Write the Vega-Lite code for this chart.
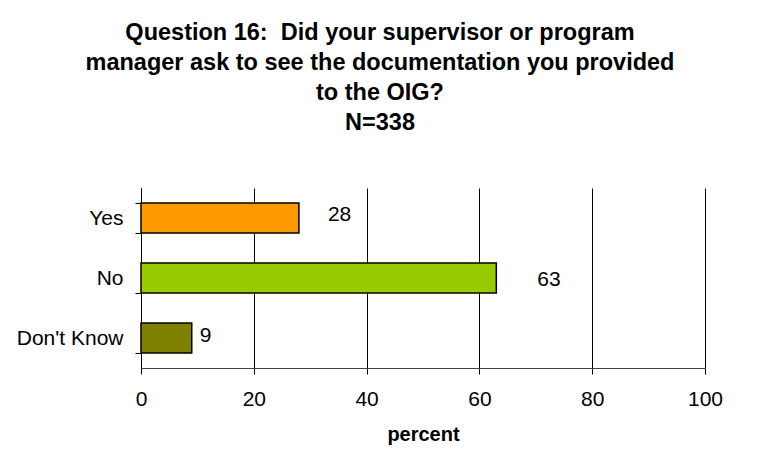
{
  "$schema": "https://vega.github.io/schema/vega-lite/v6.json",
  "width": 564,
  "height": 180,
  "autosize": "none",
  "padding": {"left": 141, "top": 188, "right": 55, "bottom": 94},
  "background": "white",
  "title": {
    "text": ["Question 16:\u00a0 Did your supervisor or program", "manager ask to see the documentation you provided", "to the OIG?", "N=338"],
    "font": "Liberation Sans",
    "fontSize": 23.5,
    "fontWeight": "bold",
    "color": "black",
    "lineHeight": 30,
    "anchor": "middle",
    "frame": "group",
    "dx": -43,
    "offset": 43
  },
  "config": {"view": {"stroke": null}},
  "data": {
    "values": [
      {"answer": "Yes", "percent": 28},
      {"answer": "No", "percent": 63},
      {"answer": "Don't Know", "percent": 9}
    ]
  },
  "encoding": {
    "y": {
      "field": "answer",
      "type": "nominal",
      "sort": ["Yes", "No", "Don't Know"],
      "scale": {"paddingInner": 0.5, "paddingOuter": 0.25},
      "axis": {
        "title": null,
        "tickBand": "extent",
        "tickSize": 6,
        "tickColor": "black",
        "domainColor": "black",
        "labelFont": "Liberation Sans",
        "labelFontSize": 21,
        "labelColor": "black",
        "labelPadding": 12,
        "grid": false
      }
    },
    "x": {
      "field": "percent",
      "type": "quantitative",
      "scale": {"domain": [0, 100], "nice": false},
      "axis": {
        "values": [0, 20, 40, 60, 80, 100],
        "grid": true,
        "gridColor": "black",
        "gridOpacity": 1,
        "title": "percent",
        "titleFont": "Liberation Sans",
        "titleFontSize": 20,
        "titleFontWeight": "bold",
        "titleColor": "black",
        "titlePadding": 15,
        "labelFont": "Liberation Sans",
        "labelFontSize": 21,
        "labelColor": "black",
        "labelPadding": 14,
        "labelFlush": false,
        "labelOverlap": false,
        "tickColor": "black",
        "tickSize": 6,
        "domainColor": "#404040"
      }
    }
  },
  "layer": [
    {
      "mark": {"type": "bar", "stroke": "black", "strokeWidth": 1.5},
      "encoding": {
        "color": {
          "field": "answer",
          "type": "nominal",
          "scale": {"domain": ["Yes", "No", "Don't Know"], "range": ["#FF9900", "#99CC00", "#808000"]},
          "legend": null
        }
      }
    },
    {
      "transform": [{"filter": {"field": "answer", "equal": "Yes"}}],
      "mark": {"type": "text", "align": "left", "baseline": "middle", "dx": 29, "dy": -3, "font": "Liberation Sans", "fontSize": 21, "color": "black"},
      "encoding": {"text": {"field": "percent", "type": "quantitative"}}
    },
    {
      "transform": [{"filter": {"field": "answer", "equal": "No"}}],
      "mark": {"type": "text", "align": "left", "baseline": "middle", "dx": 41, "dy": 2, "font": "Liberation Sans", "fontSize": 21, "color": "black"},
      "encoding": {"text": {"field": "percent", "type": "quantitative"}}
    },
    {
      "transform": [{"filter": {"field": "answer", "equal": "Don't Know"}}],
      "mark": {"type": "text", "align": "left", "baseline": "middle", "dx": 8, "dy": -2, "font": "Liberation Sans", "fontSize": 21, "color": "black"},
      "encoding": {"text": {"field": "percent", "type": "quantitative"}}
    }
  ]
}
